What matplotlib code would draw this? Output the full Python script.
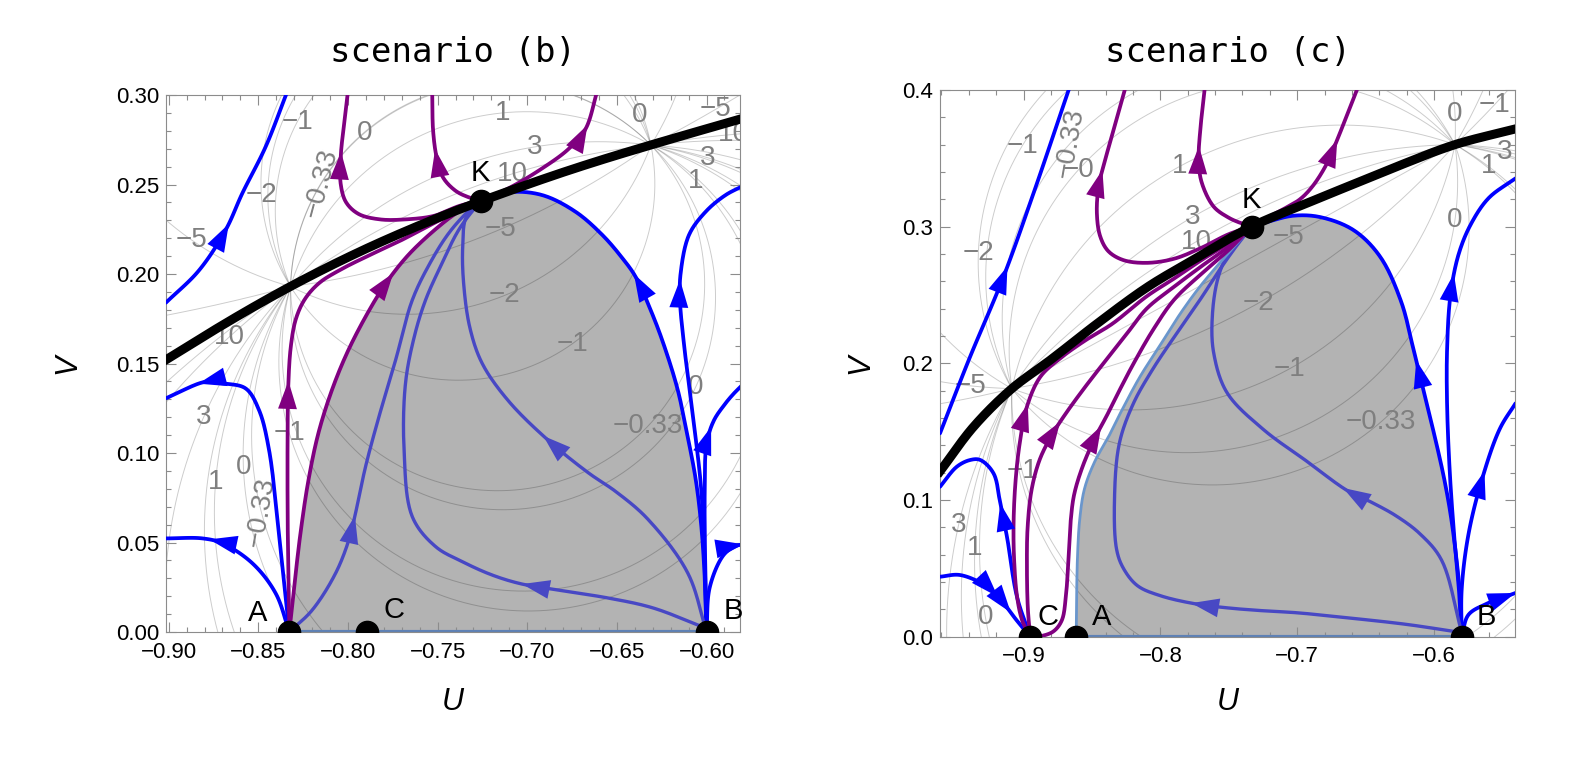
import numpy as np
import matplotlib
matplotlib.use('Agg')
import matplotlib.pyplot as plt
from matplotlib.patches import FancyArrowPatch
from matplotlib.ticker import MultipleLocator

plt.rcParams['font.family'] = ['Liberation Sans', 'DejaVu Sans']

BLUE = '#0000ff'
PURPLE = '#800080'
SLATE = '#4848c4'
SHADE = '#b3b3b3'
EDGE = '#5e81b5'

# ---------------- scenario (b) : values ----------------
b_black_u = [-0.9016, -0.8772, -0.8549, -0.8327, -0.8105, -0.7882, -0.7660, -0.7438, -0.7260, -0.6993, -0.6771, -0.6549, -0.6327, -0.6105, -0.5793]
b_black_v = [0.1520, 0.1671, 0.1803, 0.1927, 0.2042, 0.2149, 0.2247, 0.2338, 0.2406, 0.2502, 0.2578, 0.2649, 0.2716, 0.2781, 0.2871]

b_p1_u = [-0.8327, -0.8335, -0.8337, -0.8333, -0.8318, -0.8290, -0.8240, -0.8160, -0.8040, -0.7880, -0.7700, -0.7500, -0.7260]
b_p1_v = [0.000, 0.050, 0.100, 0.137, 0.160, 0.175, 0.186, 0.195, 0.2025, 0.2105, 0.219, 0.2295, 0.241]
b_p2_u = [-0.8327, -0.8300, -0.8265, -0.8220, -0.8165, -0.8090, -0.8000, -0.7880, -0.7780, -0.7660, -0.7500, -0.7380, -0.7260]
b_p2_v = [0.000, 0.025, 0.055, 0.085, 0.111, 0.135, 0.157, 0.180, 0.196, 0.211, 0.226, 0.235, 0.241]
b_p3_u = [-0.7260, -0.7380, -0.7520, -0.7680, -0.7820, -0.7940, -0.8010, -0.8040, -0.8040, -0.8020, -0.8000]
b_p3_v = [0.241, 0.238, 0.2325, 0.2305, 0.2305, 0.2335, 0.240, 0.250, 0.266, 0.285, 0.302]
b_p4_u = [-0.7260, -0.7330, -0.7400, -0.7470, -0.7505, -0.7525, -0.7530]
b_p4_v = [0.241, 0.243, 0.2465, 0.254, 0.265, 0.280, 0.302]
b_p5_u = [-0.7260, -0.7102, -0.6917, -0.6768, -0.6675, -0.6610]
b_p5_v = [0.241, 0.248, 0.259, 0.270, 0.281, 0.302]

b_b1_u = [-0.9015, -0.8831, -0.8682, -0.8589, -0.8459, -0.8338]
b_b1_v = [0.184, 0.202, 0.2246, 0.2451, 0.2711, 0.302]
b_b2_u = [-0.8327, -0.8385, -0.8440, -0.8496, -0.8571, -0.8701, -0.8794, -0.9015]
b_b2_v = [0.000, 0.0551, 0.1017, 0.124, 0.1361, 0.1389, 0.1398, 0.1306]
b_b3_u = [-0.8327, -0.8403, -0.8533, -0.8701, -0.8812, -0.9015]
b_b3_v = [0.000, 0.0216, 0.0384, 0.0496, 0.0523, 0.0523]
b_b4_u = [-0.6000, -0.6010, -0.6030, -0.6060, -0.6105, -0.6160, -0.6230, -0.6300, -0.6396, -0.6469, -0.6581, -0.6731, -0.6917, -0.7102, -0.7260]
b_b4_v = [0.000, 0.030, 0.060, 0.085, 0.109, 0.135, 0.158, 0.177, 0.1985, 0.2088, 0.2218, 0.2348, 0.2441, 0.2457, 0.241]
b_b5_u = [-0.6000, -0.6010, -0.6030, -0.6075, -0.6125, -0.6148, -0.6145, -0.6098, -0.6005, -0.5894, -0.5790]
b_b5_v = [0.000, 0.040, 0.080, 0.120, 0.160, 0.185, 0.200, 0.2218, 0.2348, 0.2441, 0.2495]
b_b6_u = [-0.6000, -0.6008, -0.6010, -0.6000, -0.5960, -0.5900, -0.5850, -0.5790]
b_b6_v = [0.000, 0.040, 0.080, 0.105, 0.118, 0.127, 0.133, 0.139]
b_b7_u = [-0.6000, -0.5982, -0.5905, -0.5838, -0.5793]
b_b7_v = [0.000, 0.025, 0.043, 0.048, 0.049]

b_s1_u = [-0.8327, -0.8199, -0.8069, -0.7995, -0.7958, -0.7902, -0.7827, -0.7734, -0.7641, -0.7540, -0.7440, -0.7340, -0.7260]
b_s1_v = [0.000, 0.0123, 0.0328, 0.0514, 0.0663, 0.0923, 0.1203, 0.152, 0.1855, 0.2065, 0.2225, 0.234, 0.241]
b_s2_u = [-0.6000, -0.6300, -0.6549, -0.6800, -0.7038, -0.7200, -0.7362, -0.7511, -0.7641, -0.7687, -0.7679, -0.7630, -0.7567, -0.7480, -0.7380, -0.7260]
b_s2_v = [0.002, 0.0135, 0.019, 0.023, 0.027, 0.032, 0.0393, 0.0477, 0.0644, 0.1017, 0.139, 0.165, 0.1855, 0.205, 0.225, 0.241]
b_s3_u = [-0.6000, -0.6105, -0.6327, -0.6500, -0.6660, -0.6882, -0.7104, -0.7251, -0.7320, -0.7355, -0.7360, -0.7340, -0.7260]
b_s3_v = [0.000, 0.033, 0.063, 0.078, 0.089, 0.107, 0.129, 0.150, 0.170, 0.195, 0.215, 0.232, 0.241]

# arrow positions
b_arrows = {
    'p1': [(-0.8337, 0.137)], 'p2': [(-0.7771, 0.199)], 'p3': [(-0.8050, 0.266)],
    'p4': [(-0.7516, 0.268)], 'p5': [(-0.6675, 0.281)], 'b1': [(-0.8684, 0.2263)],
    'b2': [(-0.8812, 0.1398)], 'b3': [(-0.8757, 0.0523)], 'b4': [(-0.6396, 0.1985)],
    'b5': [(-0.6150, 0.195)], 'b6': [(-0.5985, 0.113)], 'b7': [(-0.5800, 0.049)],
    's1': [(-0.7965, 0.063)], 's2': [(-0.7000, 0.0265)], 's3': [(-0.6882, 0.107)],
}

b_pts_name = ['A', 'C', 'B', 'K']
b_pts_u = [-0.8327, -0.7896, -0.6000, -0.7260]
b_pts_v = [0.0, 0.0, 0.0, 0.241]

b_focus1 = (-0.832, 0.193)
b_focus2 = (-0.631, 0.272)
b_lab_text = ['−1', '−0.33', '0', '1', '3', '10', '0', '−5', '10', '3', '1', '−5', '−2', '−1',
              '−0.33', '0', '−5', '−2', '10', '3', '1', '0', '−0.33', '−1']
b_lab_u = [-0.8283, -0.8149, -0.7905, -0.7138, -0.6960, -0.7082, -0.6371, -0.5949, -0.5850, -0.5995,
           -0.6060, -0.7149, -0.7127, -0.6749, -0.6327, -0.6060, -0.8872, -0.8483, -0.8660, -0.8805,
           -0.8738, -0.8583, -0.8483, -0.8327]
b_lab_v = [0.285, 0.251, 0.279, 0.290, 0.271, 0.256, 0.289, 0.292, 0.278, 0.265, 0.252, 0.225, 0.188,
           0.161, 0.115, 0.137, 0.219, 0.244, 0.165, 0.120, 0.084, 0.092, 0.067, 0.111]

b_xticks = [-0.90, -0.85, -0.80, -0.75, -0.70, -0.65, -0.60]
b_xlabels = ['−0.90', '−0.85', '−0.80', '−0.75', '−0.70', '−0.65', '−0.60']
b_yticks = [0.00, 0.05, 0.10, 0.15, 0.20, 0.25, 0.30]
b_ylabels = ['0.00', '0.05', '0.10', '0.15', '0.20', '0.25', '0.30']

# ---------------- scenario (c) ----------------
c_black_u = [-0.9610, -0.9365, -0.9085, -0.8829, -0.8610, -0.8489, -0.8099, -0.7758, -0.7334, -0.6925, -0.6598, -0.6271, -0.5847, -0.5405]
c_black_v = [0.121, 0.1536, 0.1815, 0.2005, 0.2175, 0.2270, 0.2555, 0.2758, 0.300, 0.3173, 0.3307, 0.344, 0.360, 0.3715]

c_p1_u = [-0.8951, -0.9010, -0.9048, -0.9068, -0.9073, -0.9061, -0.9030, -0.8975, -0.8878, -0.8740, -0.8560, -0.8350, -0.8100, -0.7900, -0.7700, -0.7500, -0.7334]
c_p1_v = [0.000, 0.012, 0.030, 0.055, 0.080, 0.110, 0.140, 0.1683, 0.190, 0.203, 0.216, 0.229, 0.249, 0.262, 0.2755, 0.288, 0.300]
c_p2_u = [-0.8951, -0.8968, -0.8975, -0.8970, -0.8940, -0.8880, -0.8790, -0.8700, -0.8570, -0.8416, -0.8250, -0.8100, -0.7900, -0.7700, -0.7500, -0.7334]
c_p2_v = [0.000, 0.020, 0.050, 0.080, 0.108, 0.130, 0.148, 0.162, 0.180, 0.200, 0.221, 0.240, 0.256, 0.271, 0.2855, 0.300]
c_p3_u = [-0.8951, -0.8870, -0.8780, -0.8720, -0.8690, -0.8670, -0.8655, -0.8630, -0.8570, -0.8480, -0.8390, -0.8300, -0.8195, -0.8050, -0.7900, -0.7700, -0.7500, -0.7334]
c_p3_v = [0.000, 0.0005, 0.004, 0.012, 0.030, 0.060, 0.085, 0.104, 0.124, 0.145, 0.162, 0.180, 0.200, 0.225, 0.2465, 0.2655, 0.283, 0.300]
c_p4_u = [-0.7334, -0.7500, -0.7700, -0.7900, -0.8100, -0.8270, -0.8380, -0.8440, -0.8464, -0.8450, -0.8400, -0.8330, -0.8260]
c_p4_v = [0.300, 0.2945, 0.2845, 0.2765, 0.2735, 0.2755, 0.282, 0.293, 0.310, 0.330, 0.350, 0.375, 0.400]
c_p5_u = [-0.7334, -0.7415, -0.7500, -0.7611, -0.7700, -0.7720, -0.7709, -0.7677]
c_p5_v = [0.300, 0.3027, 0.3065, 0.3147, 0.333, 0.350, 0.370, 0.400]
c_p6_u = [-0.7334, -0.7200, -0.7088, -0.6980, -0.6892, -0.6800, -0.6735, -0.6650, -0.6564]
c_p6_v = [0.300, 0.3075, 0.3135, 0.320, 0.329, 0.343, 0.357, 0.378, 0.400]

c_b1_u = [-0.9610, -0.9400, -0.9146, -0.8927, -0.8670]
c_b1_v = [0.1488, 0.2024, 0.2634, 0.3244, 0.400]
c_b2_u = [-0.8951, -0.9048, -0.9121, -0.9170, -0.9219, -0.9316, -0.9389, -0.9487, -0.9610]
c_b2_v = [0.000, 0.0293, 0.0732, 0.0976, 0.1195, 0.1293, 0.1293, 0.1244, 0.1097]
c_b3_u = [-0.9610, -0.9462, -0.9267, -0.9146, -0.9050, -0.8951]
c_b3_v = [0.0439, 0.0451, 0.0366, 0.0244, 0.012, 0.000]
c_b4_u = [-0.5798, -0.5810, -0.5840, -0.5880, -0.5925, -0.5980, -0.6040, -0.6100, -0.6150, -0.6240, -0.6394, -0.6589, -0.6833, -0.7027, -0.7200, -0.7334]
c_b4_v = [0.000, 0.030, 0.060, 0.090, 0.115, 0.140, 0.165, 0.190, 0.210, 0.2450, 0.278, 0.2975, 0.3070, 0.3080, 0.304, 0.300]
c_b5_u = [-0.5798, -0.5815, -0.5850, -0.5885, -0.5905, -0.5905, -0.5880, -0.5820, -0.5730, -0.5600, -0.5405]
c_b5_v = [0.000, 0.030, 0.070, 0.120, 0.170, 0.210, 0.250, 0.280, 0.302, 0.321, 0.3353]
c_b6_u = [-0.5798, -0.5798, -0.5749, -0.5651, -0.5520, -0.5405]
c_b6_v = [0.000, 0.0347, 0.0747, 0.1147, 0.152, 0.1707]
c_b7_u = [-0.5798, -0.5749, -0.5618, -0.5405]
c_b7_v = [0.000, 0.016, 0.024, 0.032]

c_s1_u = [-0.5798, -0.6200, -0.6600, -0.7000, -0.7250, -0.7500, -0.7742, -0.8000, -0.8167, -0.8270, -0.8320, -0.8335, -0.8300, -0.8200, -0.8060, -0.7880, -0.7700, -0.7570, -0.7450, -0.7334]
c_s1_v = [0.003, 0.009, 0.0135, 0.0175, 0.019, 0.021, 0.024, 0.030, 0.0373, 0.050, 0.0640, 0.1013, 0.1413, 0.170, 0.195, 0.222, 0.248, 0.268, 0.285, 0.300]
c_s2_u = [-0.5798, -0.5945, -0.6100, -0.6271, -0.6450, -0.6631, -0.6925, -0.7252, -0.7514, -0.7611, -0.7620, -0.7580, -0.7500, -0.7415, -0.7334]
c_s2_v = [0.003, 0.056, 0.075, 0.088, 0.098, 0.1067, 0.128, 0.152, 0.1787, 0.208, 0.235, 0.262, 0.282, 0.294, 0.300]

# left edge of the shaded basin (A up to K)
c_edge_u = [-0.8615, -0.8612, -0.8605, -0.8590, -0.8555, -0.8480, -0.8380, -0.8290, -0.8150, -0.8000, -0.7850, -0.7700, -0.7500, -0.7334]
c_edge_v = [0.000, 0.030, 0.060, 0.085, 0.108, 0.128, 0.146, 0.164, 0.190, 0.2135, 0.237, 0.2575, 0.281, 0.300]

c_arrows = {
    'p1': [(-0.9000, 0.168)], 'p2': [(-0.8745, 0.156)], 'p3': [(-0.8400, 0.150)],
    'p4': [(-0.8450, 0.340)], 'p5': [(-0.7720, 0.356)], 'p6': [(-0.6735, 0.362)],
    'b1': [(-0.9146, 0.2634)], 'b2': [(-0.9158, 0.095)], 'b3': [(-0.9207, 0.030), (-0.9110, 0.019)],
    'b4': [(-0.6120, 0.200)], 'b5': [(-0.5880, 0.262)], 'b6': [(-0.5650, 0.117)], 'b7': [(-0.5420, 0.032)],
    's1': [(-0.7742, 0.024)], 's2': [(-0.6631, 0.1067)],
}

c_pts_name = ['C', 'A', 'B', 'K']
c_pts_u = [-0.8951, -0.8615, -0.5798, -0.7334]
c_pts_v = [0.0, 0.0, 0.0, 0.300]

c_focus1 = (-0.9085, 0.1815)
c_focus2 = (-0.5847, 0.360)
c_lab_text = ['−1', '−0.33', '−0', '1', '3', '10', '−5', '−2', '−1', '−0.33', '0', '−1', '3', '1', '0',
              '−2', '−5', '−1', '3', '1', '0']
c_lab_u = [-0.9010, -0.8658, -0.8600, -0.7860, -0.7765, -0.7738, -0.7060, -0.7284, -0.7056, -0.6386,
           -0.5847, -0.5560, -0.5484, -0.5602, -0.5847, -0.9330, -0.9385, -0.9010, -0.9475, -0.9356, -0.9279]
c_lab_v = [0.359, 0.361, 0.3414, 0.344, 0.307, 0.289, 0.2925, 0.244, 0.196, 0.1573, 0.3825, 0.389,
           0.3548, 0.344, 0.305, 0.2805, 0.1835, 0.121, 0.0815, 0.065, 0.0146]

c_xticks = [-0.9, -0.8, -0.7, -0.6]
c_xlabels = ['−0.9', '−0.8', '−0.7', '−0.6']
c_yticks = [0.0, 0.1, 0.2, 0.3, 0.4]
c_ylabels = ['0.0', '0.1', '0.2', '0.3', '0.4']


# ---------------- helpers ----------------
def smooth(u, v, n=24):
    # centripetal Catmull-Rom through the read points (rendering only)
    P = np.column_stack([u, v]).astype(float)
    P = np.vstack([2 * P[0] - P[1], P, 2 * P[-1] - P[-2]])
    out = []
    for i in range(1, len(P) - 2):
        p0, p1, p2, p3 = P[i - 1], P[i], P[i + 1], P[i + 2]
        t0 = 0.0
        t1 = t0 + max(np.hypot(*(p1 - p0)), 1e-9) ** 0.5
        t2 = t1 + max(np.hypot(*(p2 - p1)), 1e-9) ** 0.5
        t3 = t2 + max(np.hypot(*(p3 - p2)), 1e-9) ** 0.5
        t = np.linspace(t1, t2, n, endpoint=False)[:, None]
        a1 = (t1 - t) / (t1 - t0) * p0 + (t - t0) / (t1 - t0) * p1
        a2 = (t2 - t) / (t2 - t1) * p1 + (t - t1) / (t2 - t1) * p2
        a3 = (t3 - t) / (t3 - t2) * p2 + (t - t2) / (t3 - t2) * p3
        b1 = (t2 - t) / (t2 - t0) * a1 + (t - t0) / (t2 - t0) * a2
        b2 = (t3 - t) / (t3 - t1) * a2 + (t - t1) / (t3 - t1) * a3
        out.append((t2 - t) / (t2 - t1) * b1 + (t - t1) / (t2 - t1) * b2)
    out.append(P[-2][None, :])
    return np.vstack(out)


def level_arc(f1, f2, p):
    # arc of the circle through f1, f2 and p that runs from f1 over p to f2
    (ax_, ay_), (bx, by), (cx, cy) = f1, f2, p
    d = 2 * (ax_ * (by - cy) + bx * (cy - ay_) + cx * (ay_ - by))
    ux = ((ax_**2 + ay_**2) * (by - cy) + (bx**2 + by**2) * (cy - ay_) + (cx**2 + cy**2) * (ay_ - by)) / d
    uy = ((ax_**2 + ay_**2) * (cx - bx) + (bx**2 + by**2) * (ax_ - cx) + (cx**2 + cy**2) * (bx - ax_)) / d
    r = np.hypot(ax_ - ux, ay_ - uy)
    a1 = np.arctan2(ay_ - uy, ax_ - ux)
    d2 = (np.arctan2(by - uy, bx - ux) - a1) % (2 * np.pi)
    dp = (np.arctan2(cy - uy, cx - ux) - a1) % (2 * np.pi)
    span = d2 if dp < d2 else d2 - 2 * np.pi
    th = a1 + np.linspace(0, span, 6000)
    return ux + r * np.cos(th), uy + r * np.sin(th)


def arrows(ax, pts, anchors, color):
    for au, av in anchors:
        i = int(np.argmin(np.hypot(pts[:, 0] - au, pts[:, 1] - av)))
        i0, i1 = max(i - 3, 0), min(i + 3, len(pts) - 1)
        ax.add_patch(FancyArrowPatch(pts[i0], pts[i1], arrowstyle='-|>,head_length=1.0,head_width=0.34',
                                     mutation_scale=20, color=color, lw=0, shrinkA=0, shrinkB=0, zorder=3.3))


def panel(ax, data, edge, shade_right, black, arr, names, pu, pv, offs, f1, f2, lt, lu, lv, rot,
          xlim, ylim, xt, xl, yt, yl, xminor, yminor, title, ttl_y, ylab_x, xlab_y):
    # shaded basin
    left = smooth(*edge)
    right = smooth(*shade_right)
    poly = np.vstack([left, right[::-1]])
    ax.fill(poly[:, 0], poly[:, 1], color=SHADE, lw=0, zorder=1)

    # grey level curves between the two focal points
    for u, v in zip(lu, lv):
        x, y = level_arc(f1, f2, (u, v))
        ax.plot(x, y, color='k', alpha=0.2, lw=0.7, zorder=1.5)
    for s, u, v, ro in zip(lt, lu, lv, rot):
        ax.text(u, v, s, color='#7f7f7f', fontsize=20, ha='center', va='center', rotation=ro,
                zorder=1.6, clip_on=True)

    ax.plot([pu[names.index('A')], pu[names.index('B')]], [0, 0], color=EDGE, lw=3, zorder=2)

    for key, (u, v, col, lw) in data.items():
        pts = smooth(u, v)
        ax.plot(pts[:, 0], pts[:, 1], color=col, lw=lw, zorder=3, solid_capstyle='round')
        arrows(ax, pts, arr.get(key, []), col)

    bk = smooth(*black)
    ax.plot(bk[:, 0], bk[:, 1], color='k', lw=6.5, zorder=3.5)

    ax.plot(pu, pv, 'o', color='k', ms=16, zorder=5)
    for n, u, v in zip(names, pu, pv):
        ax.annotate(n, (u, v), xytext=offs[n], textcoords='offset points', fontsize=21,
                    ha='center', va='center', zorder=6, annotation_clip=False)

    ax.set_xlim(*xlim)
    ax.set_ylim(*ylim)
    ax.set_xticks(xt)
    ax.set_xticklabels(xl)
    ax.set_yticks(yt)
    ax.set_yticklabels(yl)
    ax.xaxis.set_minor_locator(MultipleLocator(xminor))
    ax.yaxis.set_minor_locator(MultipleLocator(yminor))
    ax.tick_params(which='both', direction='in', top=True, right=True, color='#8c8c8c', width=0.8,
                   labelsize=16)
    ax.tick_params(axis='x', pad=7)
    ax.tick_params(axis='y', pad=5)
    ax.tick_params(which='major', length=7)
    ax.tick_params(which='minor', length=3.5)
    for sp in ax.spines.values():
        sp.set_color('#8c8c8c')
        sp.set_linewidth(0.8)
    ax.set_xlabel('U', fontsize=22, style='italic')
    ax.set_ylabel('V', fontsize=22, style='italic')
    ax.xaxis.set_label_coords(0.5, xlab_y)
    ax.yaxis.set_label_coords(ylab_x, 0.5)
    ax.text(0.5, ttl_y, title, transform=ax.transAxes, ha='center', va='center',
            fontsize=24.5, family='DejaVu Sans Mono')


fig = plt.figure(figsize=(15.82, 7.57), dpi=100)
ax_b = fig.add_axes([0.1049, 0.1651, 0.3628, 0.7094])
ax_c = fig.add_axes([0.5942, 0.1589, 0.3635, 0.7223])

LW = 2.7
b_data = {
    'b1': (b_b1_u, b_b1_v, BLUE, LW), 'b2': (b_b2_u, b_b2_v, BLUE, LW), 'b3': (b_b3_u, b_b3_v, BLUE, LW),
    'b4': (b_b4_u, b_b4_v, BLUE, LW), 'b5': (b_b5_u, b_b5_v, BLUE, LW), 'b6': (b_b6_u, b_b6_v, BLUE, LW),
    'b7': (b_b7_u, b_b7_v, BLUE, LW),
    's1': (b_s1_u, b_s1_v, SLATE, 2.4), 's2': (b_s2_u, b_s2_v, SLATE, 2.4), 's3': (b_s3_u, b_s3_v, SLATE, 2.4),
    'p1': (b_p1_u, b_p1_v, PURPLE, LW), 'p2': (b_p2_u, b_p2_v, PURPLE, LW), 'p3': (b_p3_u, b_p3_v, PURPLE, LW),
    'p4': (b_p4_u, b_p4_v, PURPLE, LW), 'p5': (b_p5_u, b_p5_v, PURPLE, LW),
}
b_rot = [75 if (s == '−0.33' and v > 0.2) else (80 if s == '−0.33' and u < -0.8 else 0)
         for s, u, v in zip(b_lab_text, b_lab_u, b_lab_v)]
panel(ax_b, b_data, (b_p2_u, b_p2_v), (b_b4_u, b_b4_v), (b_black_u, b_black_v), b_arrows,
      b_pts_name, b_pts_u, b_pts_v,
      {'A': (-23, 14), 'C': (20, 16), 'B': (19, 15), 'K': (0, 20)},
      b_focus1, b_focus2, b_lab_text, b_lab_u, b_lab_v, b_rot,
      (-0.9015, -0.5814), (0, 0.30), b_xticks, b_xlabels, b_yticks, b_ylabels, 0.01, 0.01,
      'scenario (b)', 1.079, -0.145, -0.102)

c_data = {
    'b1': (c_b1_u, c_b1_v, BLUE, LW), 'b2': (c_b2_u, c_b2_v, BLUE, LW), 'b3': (c_b3_u, c_b3_v, BLUE, LW),
    'b4': (c_b4_u, c_b4_v, BLUE, LW), 'b5': (c_b5_u, c_b5_v, BLUE, LW), 'b6': (c_b6_u, c_b6_v, BLUE, LW),
    'b7': (c_b7_u, c_b7_v, BLUE, LW),
    's1': (c_s1_u, c_s1_v, SLATE, 2.4), 's2': (c_s2_u, c_s2_v, SLATE, 2.4),
    'edge': (c_edge_u, c_edge_v, '#6a96cc', 2.0),
    'p1': (c_p1_u, c_p1_v, PURPLE, LW), 'p2': (c_p2_u, c_p2_v, PURPLE, LW), 'p3': (c_p3_u, c_p3_v, PURPLE, LW),
    'p4': (c_p4_u, c_p4_v, PURPLE, LW), 'p5': (c_p5_u, c_p5_v, PURPLE, LW), 'p6': (c_p6_u, c_p6_v, PURPLE, LW),
}
c_rot = [80 if (s == '−0.33' and v > 0.3) else 0 for s, v in zip(c_lab_text, c_lab_v)]
panel(ax_c, c_data, (c_edge_u, c_edge_v), (c_b4_u, c_b4_v), (c_black_u, c_black_v), c_arrows,
      c_pts_name, c_pts_u, c_pts_v,
      {'C': (13, 14), 'A': (18, 14), 'B': (18, 14), 'K': (0, 19)},
      c_focus1, c_focus2, c_lab_text, c_lab_u, c_lab_v, c_rot,
      (-0.961, -0.5408), (0, 0.40), c_xticks, c_xlabels, c_yticks, c_ylabels, 0.02, 0.02,
      'scenario (c)', 1.0686, -0.113, -0.092)

fig.savefig('out.png', dpi=100)
